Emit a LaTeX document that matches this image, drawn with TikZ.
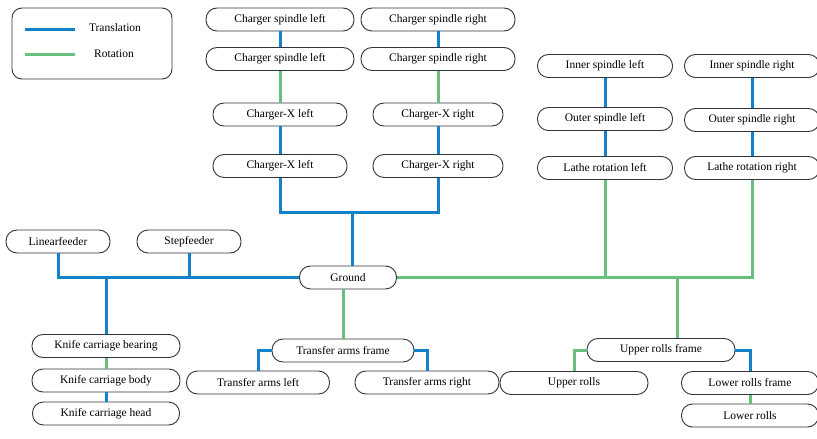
\documentclass[tikz,border=0pt]{standalone}
\usepackage{fontspec}
\setmainfont{Liberation Serif}
\definecolor{tblue}{RGB}{20,130,200}
\definecolor{rgreen}{RGB}{105,192,125}
\definecolor{edge}{RGB}{50,52,62}
\begin{document}
\begin{tikzpicture}[x=1pt,y=-1pt,
  lbl/.style={font=\fontsize{11.5}{13}\selectfont},
  pill/.style={draw=edge, line width=0.9pt, rounded corners=11pt, minimum height=23pt, inner sep=2pt, lbl, fill=white},
  tr/.style={draw=tblue, line width=3pt},
  rot/.style={draw=rgreen, line width=3pt}]
\useasboundingbox (0,0) rectangle (817,439);
% legend
\node[draw=edge, line width=0.9pt, rounded corners=10pt, minimum width=160pt, minimum height=71pt] (legend) at (92,43.5) {};
\coordinate (la1) at (25,29); \coordinate (la2) at (75,29);
\coordinate (lb1) at (25,54); \coordinate (lb2) at (75,54);
\draw[tr] (la1) -- (la2);
\draw[rot] (lb1) -- (lb2);
\node[lbl] (ltr) at (115,28) {Translation};
\node[lbl] (lrot) at (114,54) {Rotation};
% charger column left
\node[pill, minimum width=148pt] (csl1) at (280,19.5) {Charger spindle left};
\node[pill, minimum width=148pt] (csl2) at (280,59) {Charger spindle left};
\node[pill, minimum width=134pt] (cxl1) at (280,114.5) {Charger-X left};
\node[pill, minimum width=134pt] (cxl2) at (280,166) {Charger-X left};
% charger column right
\node[pill, minimum width=154pt] (csr1) at (438,19.5) {Charger spindle right};
\node[pill, minimum width=154pt] (csr2) at (438,59) {Charger spindle right};
\node[pill, minimum width=130pt] (cxr1) at (438,114.5) {Charger-X right};
\node[pill, minimum width=130pt] (cxr2) at (438,166) {Charger-X right};
% lathe columns
\node[pill, minimum width=135pt] (isl) at (605,66) {Inner spindle left};
\node[pill, minimum width=135pt] (osl) at (605,119) {Outer spindle left};
\node[pill, minimum width=135pt] (lrl) at (605,168) {Lathe rotation left};
\node[pill, minimum width=135pt] (isr) at (752,66) {Inner spindle right};
\node[pill, minimum width=135pt] (osr) at (752,120) {Outer spindle right};
\node[pill, minimum width=135pt] (lrr) at (752,168) {Lathe rotation right};
% feeders and ground
\node[pill, minimum width=104pt] (lf) at (58,241.5) {Linearfeeder};
\node[pill, minimum width=104pt] (sf) at (189,241.5) {Stepfeeder};
\node[pill, minimum width=97pt] (gnd) at (348,277.5) {Ground};
% knife
\node[pill, minimum width=148pt] (kcb) at (106,346) {Knife carriage bearing};
\node[pill, minimum width=148pt] (kcy) at (106,380.5) {Knife carriage body};
\node[pill, minimum width=147pt] (kch) at (106,413.5) {Knife carriage head};
% transfer arms
\node[pill, minimum width=142pt] (taf) at (343,350.5) {Transfer arms frame};
\node[pill, minimum width=143pt] (tal) at (258,382.5) {Transfer arms left};
\node[pill, minimum width=144pt] (tar) at (427,382.5) {Transfer arms right};
% rolls
\node[pill, minimum width=148pt] (urf) at (661,350) {Upper rolls frame};
\node[pill, minimum width=148pt] (ur) at (574,383) {Upper rolls};
\node[pill, minimum width=137pt] (lrf) at (750,383) {Lower rolls frame};
\node[pill, minimum width=137pt] (lr) at (750,415.5) {Lower rolls};
% connectors: charger
\draw[tr] (csl1.south) -- (csl2.north);
\draw[rot] (csl2.south) -- (cxl1.north);
\draw[tr] (cxl1.south) -- (cxl2.north);
\draw[tr] (csr1.south) -- (csr2.north);
\draw[rot] (csr2.south) -- (cxr1.north);
\draw[tr] (cxr1.south) -- (cxr2.north);
\coordinate (b1) at (352,212);
\draw[tr] (cxl2.south) |- (b1) -| (cxr2.south);
\draw[tr] (b1) -- (b1 |- gnd.north);
% lathe
\draw[tr] (isl.south) -- (osl.north);
\draw[tr] (osl.south) -- (lrl.north);
\draw[tr] (isr.south) -- (osr.north);
\draw[tr] (osr.south) -- (lrr.north);
\draw[rot] (gnd.east) -| (lrr.south);
\draw[rot] (lrl.south) -- (lrl.south |- gnd.east);
\coordinate (b3) at (677,277.5);
\draw[rot] (b3) -- (b3 |- urf.north);
% feeders
\draw[tr] (lf.south) |- (gnd.west);
\draw[tr] (sf.south) -- (sf.south |- gnd.west);
\coordinate (b2) at (106,277.5);
\draw[tr] (b2) -- (kcb.north);
\draw[rot] (kcb.south) -- (kcy.north);
\draw[tr] (kcy.south) -- (kch.north);
% transfer
\draw[rot] (taf.north) -- (taf.north |- gnd.south);
\draw[tr] (taf.west) -| (tal.north);
\draw[tr] (taf.east) -| (tar.north);
% rolls
\draw[rot] (urf.west) -| (ur.north);
\draw[tr] (urf.east) -| (lrf.north);
\draw[rot] (lrf.south) -- (lr.north);
\end{tikzpicture}
\end{document}
